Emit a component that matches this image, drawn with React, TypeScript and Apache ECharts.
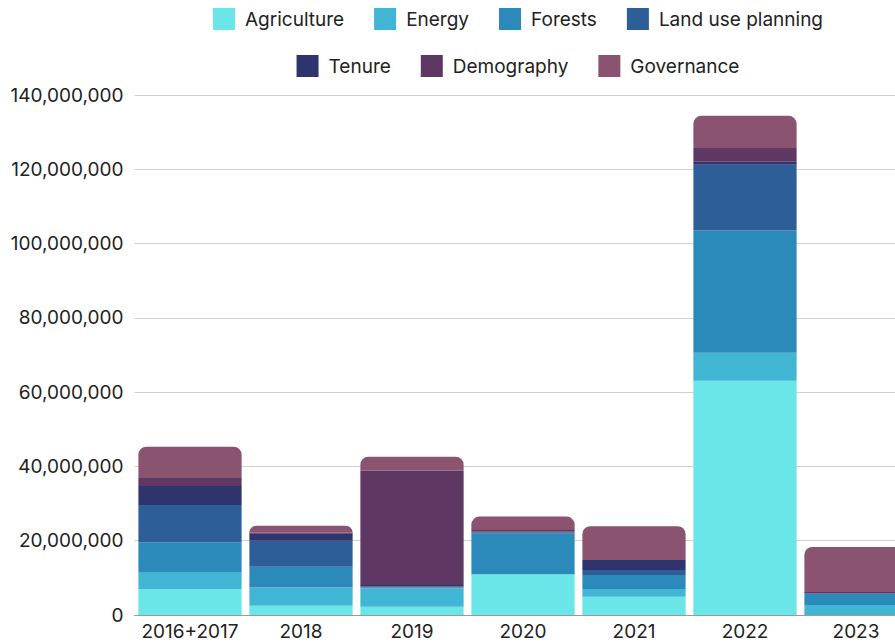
import React, { useEffect, useRef } from "react";
import * as echarts from "echarts";

const categories = ["2016+2017", "2018", "2019", "2020", "2021", "2022", "2023"];
const agriculture = [7000000, 2500000, 2200000, 11000000, 4900000, 63100000, 0];
const energy = [4600000, 4900000, 5000000, 0, 2100000, 7500000, 2700000];
const forests = [7900000, 5600000, 200000, 11000000, 3800000, 32900000, 3000000];
const landUse = [10100000, 7000000, 300000, 200000, 1300000, 17700000, 100000];
const tenure = [5100000, 2000000, 400000, 300000, 2700000, 800000, 100000];
const demography = [2200000, 200000, 30800000, 400000, 0, 3700000, 300000];
const governance = [8400000, 1800000, 3700000, 3600000, 9100000, 8700000, 12100000];

const seriesNames = ["Agriculture", "Energy", "Forests", "Land use planning", "Tenure", "Demography", "Governance"];
const seriesData = [agriculture, energy, forests, landUse, tenure, demography, governance];
const colors = ["#6ae5e8", "#40b5d4", "#2c8aba", "#2d5e98", "#2f346c", "#5e3763", "#8a536f"];

const FONT = "Inter";
const FS = 19;

export default function App() {
  const ref = useRef<HTMLDivElement>(null);
  useEffect(() => {
    if (!ref.current) return;
    const chart = echarts.init(ref.current, null, { renderer: "svg" });
    const legendCommon = {
      left: "center",
      itemWidth: 22,
      itemHeight: 22,
      itemGap: 30,
      icon: "rect",
      textStyle: { fontFamily: FONT, fontSize: FS, color: "#222", padding: [0, 0, 0, 5] },
    };
    chart.setOption({
      animation: false,
      color: colors,
      textStyle: { fontFamily: FONT },
      legend: [
        { ...legendCommon, top: 3, data: seriesNames.slice(0, 4) },
        { ...legendCommon, top: 50, data: seriesNames.slice(4) },
      ],
      grid: { left: 134.5, right: 124.5, top: 95, bottom: 27, containLabel: false },
      xAxis: {
        type: "category",
        data: categories,
        axisTick: { show: false },
        axisLine: { lineStyle: { color: "#9a9a9a", width: 1 } },
        axisLabel: { fontFamily: FONT, fontSize: FS, color: "#222", margin: 7, interval: 0 },
      },
      yAxis: {
        type: "value",
        min: 0,
        max: 140000000,
        interval: 20000000,
        axisLabel: {
          fontFamily: FONT,
          fontSize: FS,
          color: "#222",
          margin: 11,
          formatter: (v: number) => v.toLocaleString("en-US"),
        },
        splitLine: { lineStyle: { color: "#d0d0d0" } },
      },
      series: seriesNames.map((name, i) => ({
        name,
        type: "bar",
        stack: "total",
        barCategoryGap: "7%",
        data: seriesData[i],
        itemStyle: {
          color: colors[i],
          borderRadius: i === seriesNames.length - 1 ? [8, 8, 0, 0] : 0,
        },
      })),
    });
    return () => chart.dispose();
  }, []);
  return (
    <div style={{ position: "fixed", left: 0, top: 0, width: 895, height: 642, overflow: "hidden", background: "#fff" }}>
      <div ref={ref} style={{ width: 1036, height: 642 }} />
    </div>
  );
}
